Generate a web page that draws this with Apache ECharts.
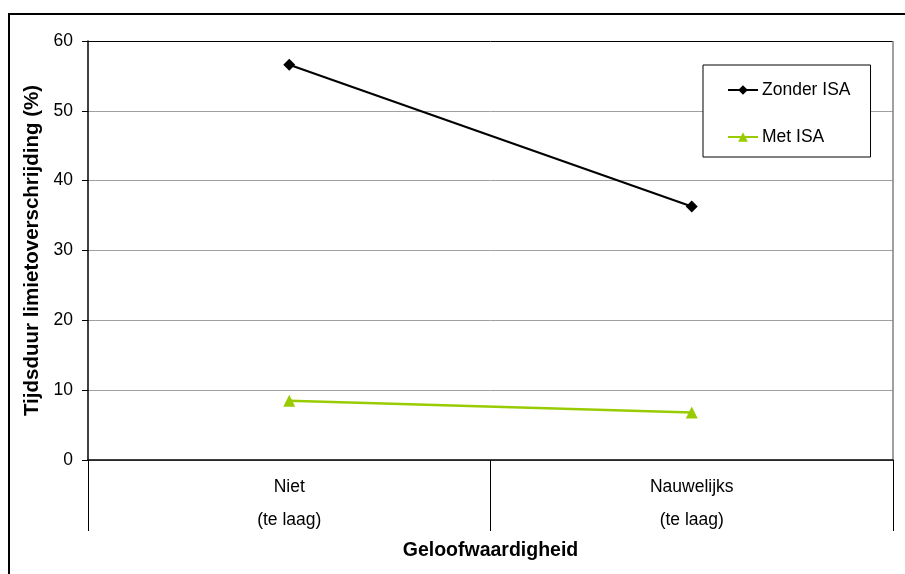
<!DOCTYPE html>
<html>
<head>
<meta charset="utf-8">
<script src="https://cdn.jsdelivr.net/npm/echarts@6/dist/echarts.min.js"></script>
<style>
  html, body { margin: 0; padding: 0; background: #fff; }
  #chart { width: 905px; height: 574px; }
</style>
</head>
<body>
<div id="chart"></div>
<script>
// Categories along the x axis (two-line labels)
const categories = ['Niet\n\n(te laag)', 'Nauwelijks\n\n(te laag)'];
// Share of driving time above the speed limit (%)
const zonderISA = [56.6, 36.3];
const metISA = [8.5, 6.8];
const yTicks = { min: 0, max: 60, interval: 10 };

const font = 'Liberation Sans, Arial, sans-serif';
const chart = echarts.init(document.getElementById('chart'));

chart.setOption({
  animation: false,
  backgroundColor: '#fff',
  textStyle: { fontFamily: font },
  graphic: [{
    type: 'rect',
    shape: { x: 9, y: 14, width: 940, height: 620 },
    style: { fill: 'none', stroke: '#000', lineWidth: 2 },
    silent: true
  }],
  grid: { left: 88, right: 12, top: 41, bottom: 114, containLabel: false },
  legend: {
    orient: 'vertical',
    left: 703,
    top: 65,
    width: 169,
    padding: [15, 20, 10, 24],
    itemGap: 27,
    itemWidth: 30,
    itemHeight: 12,
    borderColor: '#000',
    borderWidth: 1,
    backgroundColor: '#fff',
    textStyle: { fontSize: 17.5, color: '#000', fontFamily: font, padding: [0, 0, 0, -1], lineHeight: 20 },
    data: ['Zonder ISA', 'Met ISA']
  },
  xAxis: {
    type: 'category',
    data: categories,
    boundaryGap: true,
    name: 'Geloofwaardigheid',
    nameLocation: 'middle',
    nameGap: 81,
    nameTextStyle: { fontSize: 19.5, fontWeight: 'bold', color: '#000', fontFamily: font },
    axisLine: { lineStyle: { color: '#000', width: 1.5 } },
    axisTick: { show: true, interval: 0, length: 71, lineStyle: { color: '#000', width: 1 } },
    axisLabel: { fontSize: 17.5, color: '#000', lineHeight: 16.5, margin: 19, interval: 0, fontFamily: font },
    splitLine: { show: true, interval: 0, lineStyle: { color: ['rgba(0,0,0,0)', 'rgba(0,0,0,0)', '#808080'], width: 1.5 } }
  },
  yAxis: {
    type: 'value',
    min: yTicks.min,
    max: yTicks.max,
    interval: yTicks.interval,
    name: 'Tijdsduur limietoverschrijding (%)',
    nameLocation: 'middle',
    nameGap: 43,
    nameTextStyle: { fontSize: 20.5, fontWeight: 'bold', color: '#000', fontFamily: font },
    axisLine: { show: true, lineStyle: { color: '#000', width: 1.5 } },
    axisTick: { show: true, length: 6, lineStyle: { color: '#000' } },
    axisLabel: { fontSize: 17.5, color: '#000', margin: 15, fontFamily: font },
    splitLine: {
      show: true,
      lineStyle: { color: ['#a0a0a0', '#a0a0a0', '#a0a0a0', '#a0a0a0', '#a0a0a0', '#a0a0a0', '#000'], width: 1 }
    }
  },
  series: [
    {
      name: 'Zonder ISA',
      type: 'line',
      data: zonderISA,
      symbol: 'diamond',
      symbolSize: 12,
      itemStyle: { color: '#000' },
      lineStyle: { color: '#000', width: 2 }
    },
    {
      name: 'Met ISA',
      type: 'line',
      data: metISA,
      symbol: 'triangle',
      symbolSize: 12,
      itemStyle: { color: '#99cc00' },
      lineStyle: { color: '#99cc00', width: 2.5 }
    }
  ]
});
</script>
</body>
</html>
